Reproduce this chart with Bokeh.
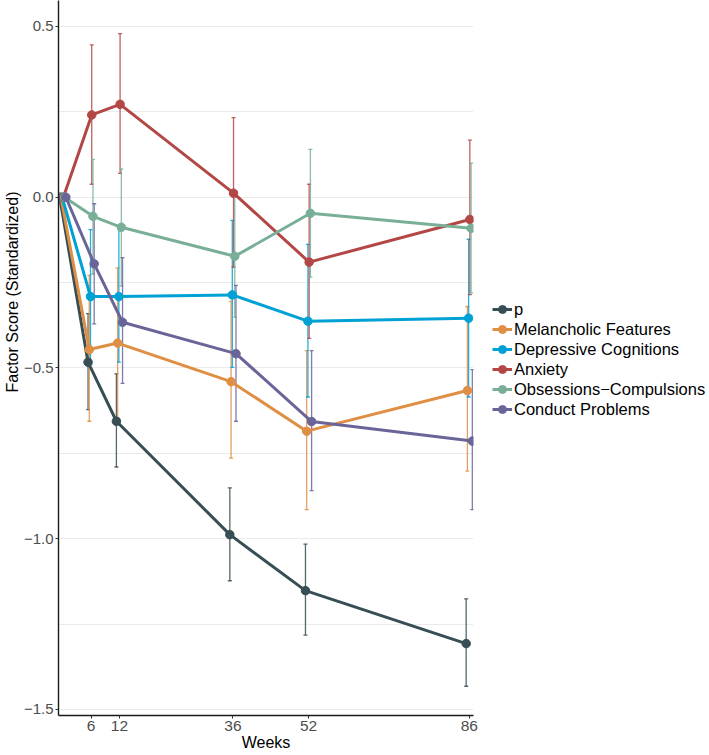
import math
from bokeh.plotting import figure
from bokeh.layouts import row
from bokeh.models import (ColumnDataSource, Whisker, TeeHead, Legend, LegendItem, Title,
                          FixedTicker, Range1d, CustomJSTickFormatter)
from bokeh.embed import file_html
from bokeh.resources import INLINE

# ---------------- data ----------------
weeks = [0, 6, 12, 36, 52, 86]
x_ticks = [6, 12, 36, 52, 86]
y_ticks = [-1.5, -1.0, -0.5, 0.0, 0.5]
y_minor = [-1.25, -0.75, -0.25, 0.25]

series_names = ["p", "Melancholic Features", "Depressive Cognitions", "Anxiety",
                "Obsessions\u2212Compulsions", "Conduct Problems"]
series_colors = ["#374E55", "#DF8F44", "#00A1D5", "#B24745", "#79AF97", "#6A6599"]

p_est = [0, -0.483, -0.656, -0.988, -1.152, -1.307]
p_lo = [0, -0.622, -0.790, -1.123, -1.282, -1.432]
p_hi = [0, -0.341, -0.517, -0.851, -1.016, -1.176]

mel_est = [0, -0.446, -0.427, -0.540, -0.685, -0.566]
mel_lo = [0, -0.656, -0.647, -0.764, -0.915, -0.802]
mel_hi = [0, -0.229, -0.207, -0.305, -0.449, -0.320]

dep_est = [0, -0.291, -0.291, -0.286, -0.363, -0.354]
dep_lo = [0, -0.490, -0.483, -0.498, -0.585, -0.585]
dep_hi = [0, -0.095, -0.085, -0.068, -0.138, -0.123]

anx_est = [0, 0.241, 0.272, 0.012, -0.190, -0.065]
anx_lo = [0, 0.038, 0.070, -0.205, -0.413, -0.285]
anx_hi = [0, 0.446, 0.479, 0.233, 0.038, 0.167]

oc_est = [0, -0.056, -0.088, -0.173, -0.047, -0.091]
oc_lo = [0, -0.225, -0.260, -0.351, -0.234, -0.280]
oc_hi = [0, 0.111, 0.083, 0.011, 0.140, 0.100]

con_est = [0, -0.195, -0.366, -0.458, -0.657, -0.714]
con_lo = [0, -0.371, -0.545, -0.656, -0.859, -0.915]
con_hi = [0, -0.019, -0.177, -0.258, -0.449, -0.505]

estimates = [p_est, mel_est, dep_est, anx_est, oc_est, con_est]
lowers = [p_lo, mel_lo, dep_lo, anx_lo, oc_lo, con_lo]
uppers = [p_hi, mel_hi, dep_hi, anx_hi, oc_hi, con_hi]

dodge_step = 0.26  # weeks between dodged groups

FONT = "Liberation Sans"

# ---------------- main figure ----------------
p = figure(width=480, height=755, title=None,
           x_range=Range1d(-0.9, 86.9), y_range=Range1d(-1.5176, 0.5761),
           output_backend="svg", toolbar_location=None,
           min_border_left=58, min_border_right=7, min_border_top=0, min_border_bottom=40)
p.outline_line_color = None
p.background_fill_color = "white"
p.border_fill_color = "white"

p.xgrid.visible = False
p.ygrid.ticker = FixedTicker(ticks=y_ticks, minor_ticks=y_minor)
p.ygrid.grid_line_color = "#EBEBEB"
p.ygrid.grid_line_width = 1
p.ygrid.minor_grid_line_color = "#EBEBEB"
p.ygrid.minor_grid_line_width = 1

p.xaxis.ticker = FixedTicker(ticks=x_ticks)
p.yaxis.ticker = FixedTicker(ticks=y_ticks)
p.yaxis.formatter = CustomJSTickFormatter(
    code="return (tick < 0 ? '\\u2212' : '') + Math.abs(tick).toFixed(1);")

for ax in (p.xaxis[0], p.yaxis[0]):
    ax.axis_line_color = "#1A1A1A"
    ax.axis_line_width = 1.4
    ax.major_tick_line_color = "#333333"
    ax.major_tick_line_width = 1.1
    ax.major_tick_out = 3
    ax.major_tick_in = 0
    ax.minor_tick_line_color = None
    ax.major_label_text_font = FONT
    ax.major_label_text_font_size = "15.5px"
    ax.major_label_text_color = "#4D4D4D"
    ax.major_label_standoff = 2
p.yaxis.major_label_text_font_size = "15px"

p.xaxis.axis_label = "Weeks"
p.xaxis.axis_label_standoff = 0
p.xaxis.axis_label_text_font = FONT
p.xaxis.axis_label_text_font_size = "16px"
p.xaxis.axis_label_text_font_style = "normal"
p.xaxis.axis_label_text_color = "black"

# error bars
for i, (col, est, lo, hi) in enumerate(zip(series_colors, estimates, lowers, uppers)):
    xs = [w + (i - 2.5) * dodge_step for w in weeks]
    keep = [k for k in range(len(weeks)) if hi[k] != lo[k]]
    wsrc = ColumnDataSource(dict(x=[xs[k] for k in keep],
                                 lower=[lo[k] for k in keep],
                                 upper=[hi[k] for k in keep]))
    w = Whisker(source=wsrc, base="x", lower="lower", upper="upper",
                line_color=col, line_width=1.3, line_alpha=0.85, level="underlay",
                upper_head=TeeHead(size=4, line_color=col, line_width=1.3, line_alpha=0.85),
                lower_head=TeeHead(size=4, line_color=col, line_width=1.3, line_alpha=0.85))
    p.add_layout(w)

for i, (col, est) in enumerate(zip(series_colors, estimates)):
    xs = [w + (i - 2.5) * dodge_step for w in weeks]
    src = ColumnDataSource(dict(x=xs, y=est))
    p.line("x", "y", source=src, line_color=col, line_width=3)
for i, (col, est) in enumerate(zip(series_colors, estimates)):
    xs = [w + (i - 2.5) * dodge_step for w in weeks]
    src = ColumnDataSource(dict(x=xs, y=est))
    p.scatter("x", "y", source=src, size=8.5, fill_color=col, line_color=col)

# y axis title (placed off-centre as in the reference)
p.add_layout(Title(text="Factor Score (Standardized)", align="left", offset=323, standoff=0,
                   text_font=FONT, text_font_size="16px", text_font_style="normal",
                   text_color="black"), "left")

# ---------------- legend panel ----------------
lg = figure(width=229, height=755, title=None, x_range=Range1d(0, 1), y_range=Range1d(0, 1),
            x_axis_location=None, y_axis_location=None,
            output_backend="svg", toolbar_location=None,
            min_border_left=0, min_border_right=0, min_border_top=0, min_border_bottom=0)
lg.outline_line_color = None
lg.xgrid.visible = False
lg.ygrid.visible = False

items = []
for col, name in zip(series_colors, series_names):
    # legend-only proxy glyphs, kept outside the visible range
    proxy = ColumnDataSource(dict(x=[-5, -4], y=[-5, -5]))
    lr = lg.line("x", "y", source=proxy, line_color=col, line_width=3)
    pr = lg.scatter("x", "y", source=proxy, size=8.5, fill_color=col, line_color=col)
    items.append(LegendItem(label=name, renderers=[lr, pr]))

legend = Legend(items=items, location=(12, 296), orientation="vertical",
                margin=0, padding=0, spacing=0,
                glyph_width=20, glyph_height=20, label_height=20, label_standoff=2,
                label_text_font=FONT, label_text_font_size="16.5px", label_text_color="black",
                border_line_color=None, background_fill_alpha=0)
lg.add_layout(legend)

open("out.html", "w").write(file_html(row(p, lg), INLINE))
